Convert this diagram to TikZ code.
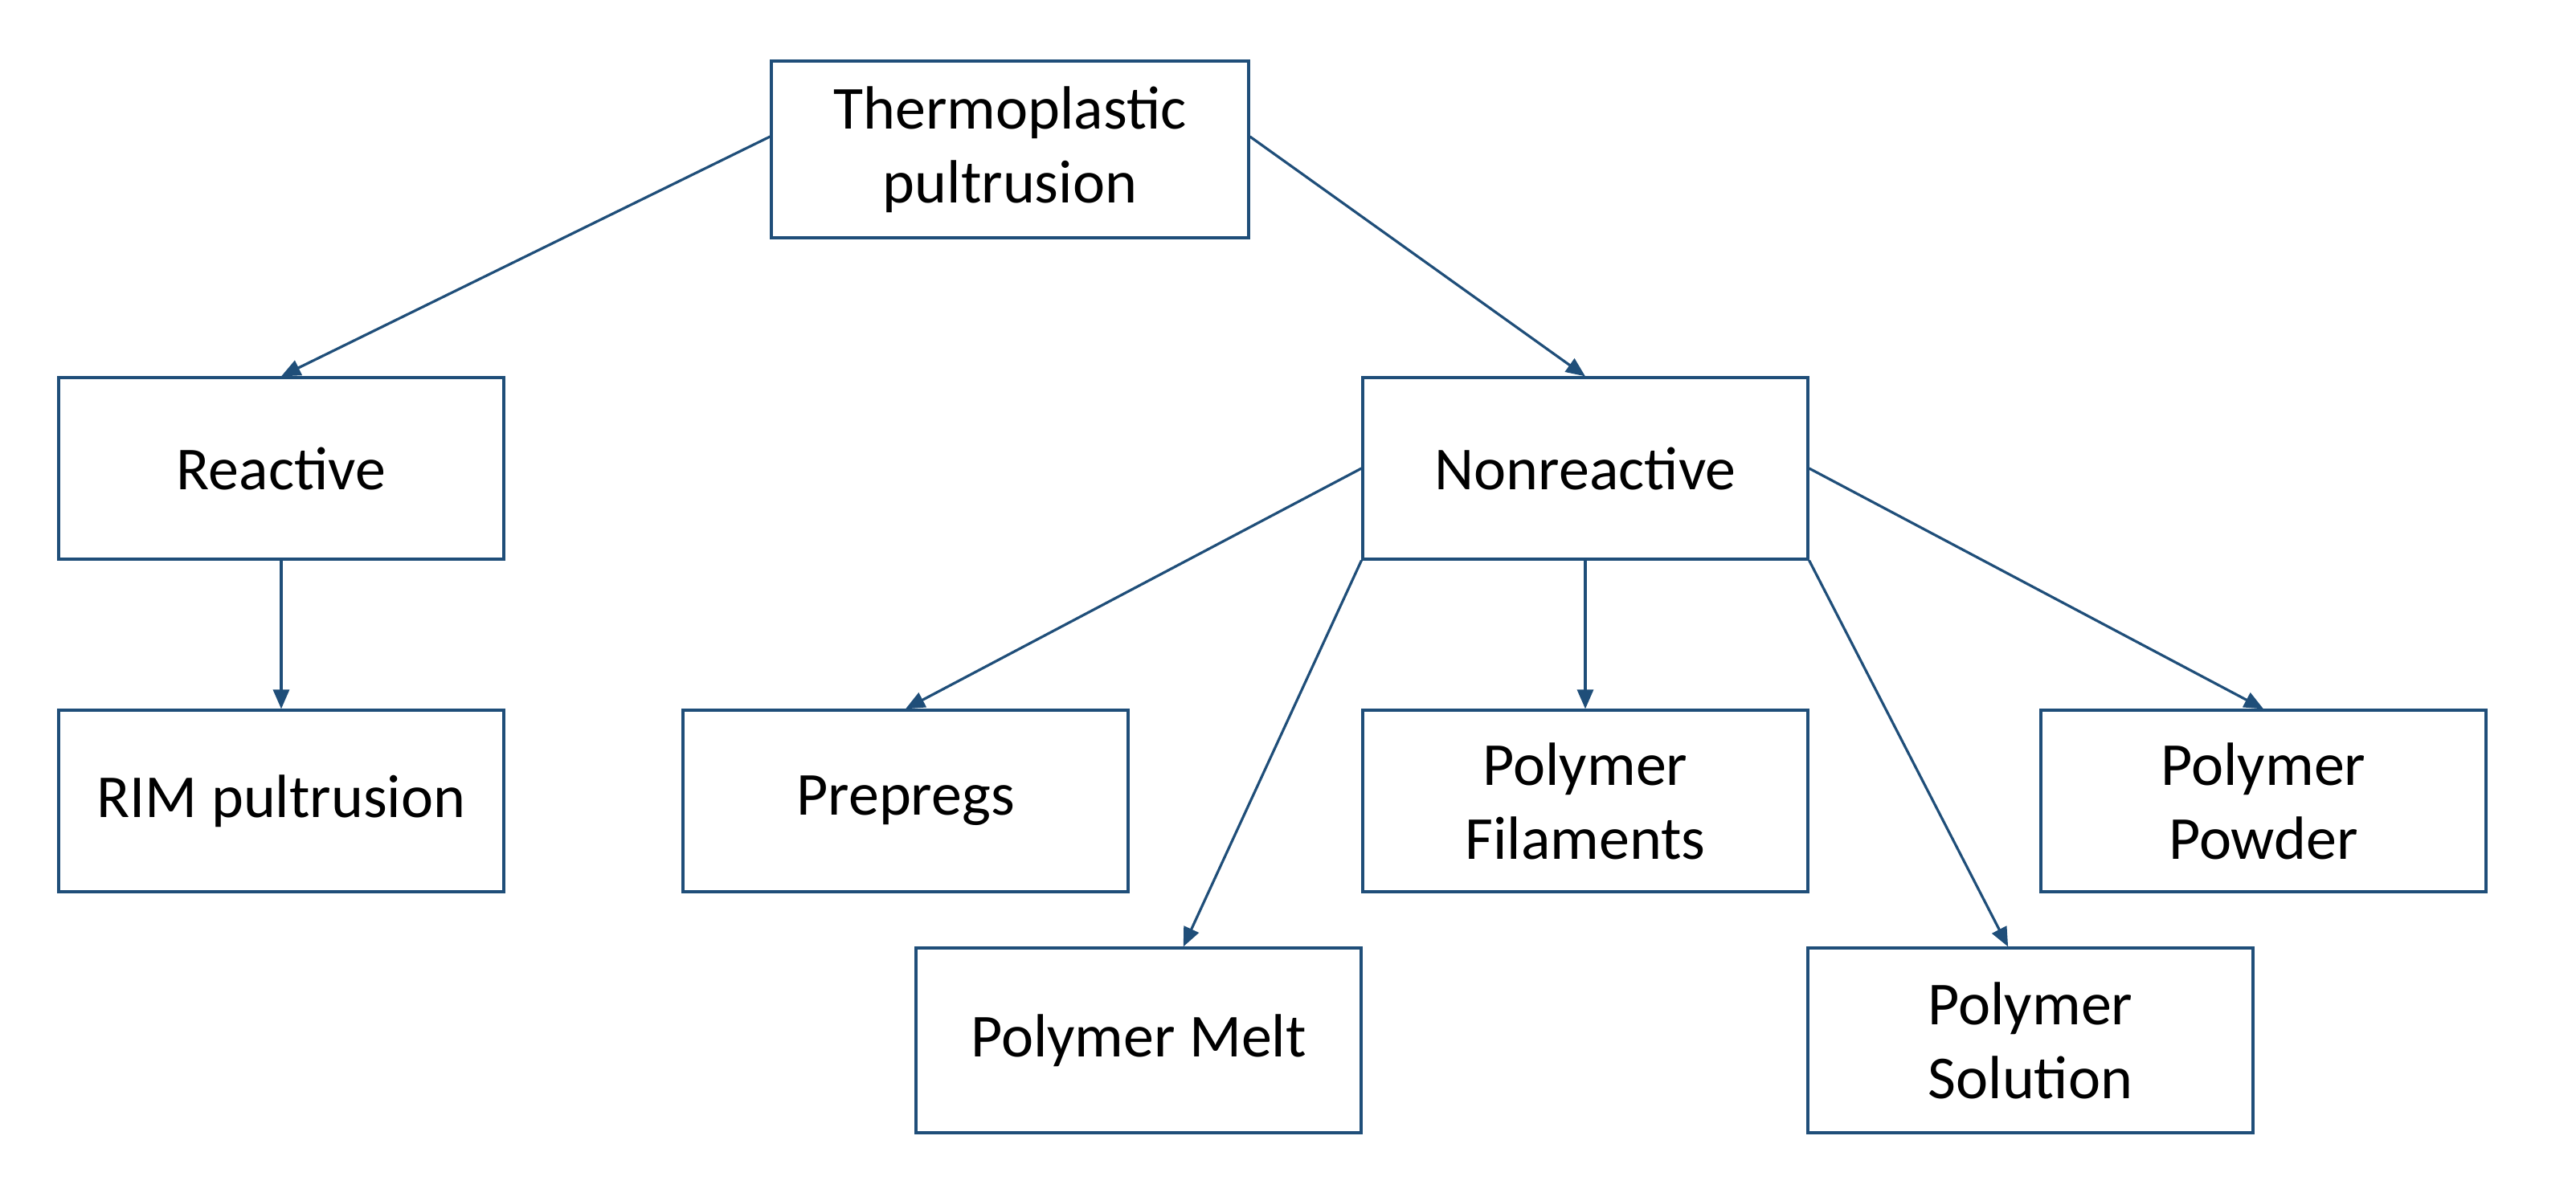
\documentclass[tikz,border=0pt]{standalone}
\usepackage{fontspec}
\setmainfont{Carlito}
\usetikzlibrary{arrows.meta,calc}
\definecolor{bl}{HTML}{1F4E79}
\begin{document}
\begin{tikzpicture}[x=1pt,y=-1pt,
 box/.style={draw=bl,line width=1.6pt,minimum width=277pt,minimum height=113pt,align=center,font=\fontsize{38}{46}\selectfont,inner sep=0pt},
 arr/.style={draw=bl,line width=1.6pt,-{Triangle[length=12pt,width=10pt]}}]
\useasboundingbox (0,0) rectangle (1603,742);
\node[box,minimum width=297pt,minimum height=110pt] (t) at (628.5,93) {Thermoplastic\\pultrusion};
\node[box] (r) at (175,291.5) {Reactive};
\node[box] (n) at (986.5,291.5) {Nonreactive};
\node[box] (rim) at (175,498.5) {RIM pultrusion};
\node[box] (pp) at (563.5,498.5) {Prepregs};
\node[box] (pf) at (986.5,498.5) {Polymer\\Filaments};
\node[box] (pw) at (1408.5,498.5) {Polymer\\Powder};
\node[box,minimum height=115pt] (pm) at (708.5,647.5) {Polymer Melt};
\node[box,minimum height=115pt] (ps) at (1263.5,647.5) {Polymer\\Solution};
\draw[arr] ($(t.west)+(0,-8)$) -- (r.north);
\draw[arr] ($(t.east)+(0,-8)$) -- (n.north);
\draw[arr] (r.south) -- (rim.north);
\draw[arr] (n.west) -- (pp.north);
\draw[arr] (n.south west) -- ($(pm.north west)!0.6!(pm.north east)$);
\draw[arr] (n.south) -- (pf.north);
\draw[arr] (n.south east) -- ($(ps.north west)!0.45!(ps.north east)$);
\draw[arr] (n.east) -- (pw.north);
\end{tikzpicture}
\end{document}
